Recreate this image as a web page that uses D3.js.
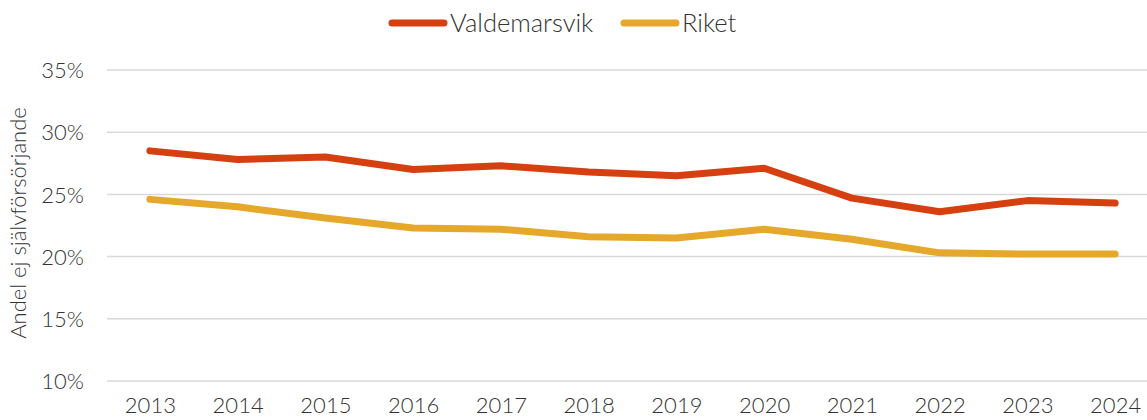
<!DOCTYPE html>
<html>
<head>
<meta charset="utf-8">
<script src="https://cdn.jsdelivr.net/npm/d3@7"></script>
<style>
  html, body { margin: 0; padding: 0; background: #fff; }
  svg { display: block; font-family: Lato, "Open Sans", sans-serif; font-weight: 300; }
</style>
</head>
<body>
<svg id="chart" width="1147" height="420"></svg>
<script>
// Share of population not self-supporting, per year
const years = ["2013","2014","2015","2016","2017","2018","2019","2020","2021","2022","2023","2024"];
const valdemarsvik = [28.5, 27.8, 28.0, 27.0, 27.3, 26.8, 26.5, 27.1, 24.7, 23.6, 24.5, 24.3];
const riket = [24.6, 24.0, 23.1, 22.3, 22.2, 21.6, 21.5, 22.2, 21.4, 20.3, 20.2, 20.2];
const yTicks = [10, 15, 20, 25, 30, 35];
const seriesNames = ["Valdemarsvik", "Riket"];
const seriesColors = ["#D63F10", "#E6A82A"];

const svg = d3.select("#chart");
const plotLeft = 106, plotRight = 1159, plotTop = 70, plotBottom = 381;

const x = d3.scalePoint().domain(years).range([plotLeft, plotRight]).padding(0.5);
const y = d3.scaleLinear().domain([10, 35]).range([plotBottom, plotTop]);

// gridlines
svg.append("g").selectAll("line").data(yTicks).join("line")
  .attr("x1", plotLeft + 1).attr("x2", 1147)
  .attr("y1", d => y(d)).attr("y2", d => y(d))
  .attr("stroke", "#d9d9d9").attr("stroke-width", 1.5);

// y axis labels
const yAxis = d3.axisLeft(y).tickValues(yTicks).tickFormat(d => d + "%").tickSize(0).tickPadding(0);
svg.append("g").attr("transform", `translate(84,0)`).call(yAxis)
  .call(g => g.select(".domain").remove())
  .call(g => g.selectAll("text").attr("fill", "#333").attr("font-size", 22)
        .attr("font-family", "Lato, sans-serif").attr("font-weight", 300).attr("dy", "0.35em"));

// x axis labels
const xAxis = d3.axisBottom(x).tickSize(0).tickPadding(0);
svg.append("g").attr("transform", `translate(0,396)`).call(xAxis)
  .call(g => g.select(".domain").remove())
  .call(g => g.selectAll("text").attr("fill", "#333").attr("font-size", 22)
        .attr("font-family", "Lato, sans-serif").attr("font-weight", 300).attr("dy", "0.75em"));

// y axis title
svg.append("text")
  .attr("transform", "translate(26,223) rotate(-90)")
  .attr("text-anchor", "middle")
  .attr("fill", "#333").attr("font-size", 22)
  .text("Andel ej självförsörjande");

// lines
const line = d3.line().x((d, i) => x(years[i])).y(d => y(d));
[valdemarsvik, riket].forEach((vals, k) => {
  svg.append("path").datum(vals)
    .attr("d", line)
    .attr("fill", "none")
    .attr("stroke", seriesColors[k])
    .attr("stroke-width", 7)
    .attr("stroke-linecap", "round")
    .attr("stroke-linejoin", "round");
});

// legend
const legendX = [392, 624];
seriesNames.forEach((name, k) => {
  const g = svg.append("g").attr("transform", `translate(${legendX[k]},23)`);
  g.append("line").attr("x1", 0).attr("x2", 52).attr("y1", 0).attr("y2", 0)
    .attr("stroke", seriesColors[k]).attr("stroke-width", 7).attr("stroke-linecap", "round");
  g.append("text").attr("x", 58).attr("y", 0).attr("dy", "0.35em")
    .attr("fill", "#333").attr("font-size", 25.5).text(name);
});
</script>
</body>
</html>
